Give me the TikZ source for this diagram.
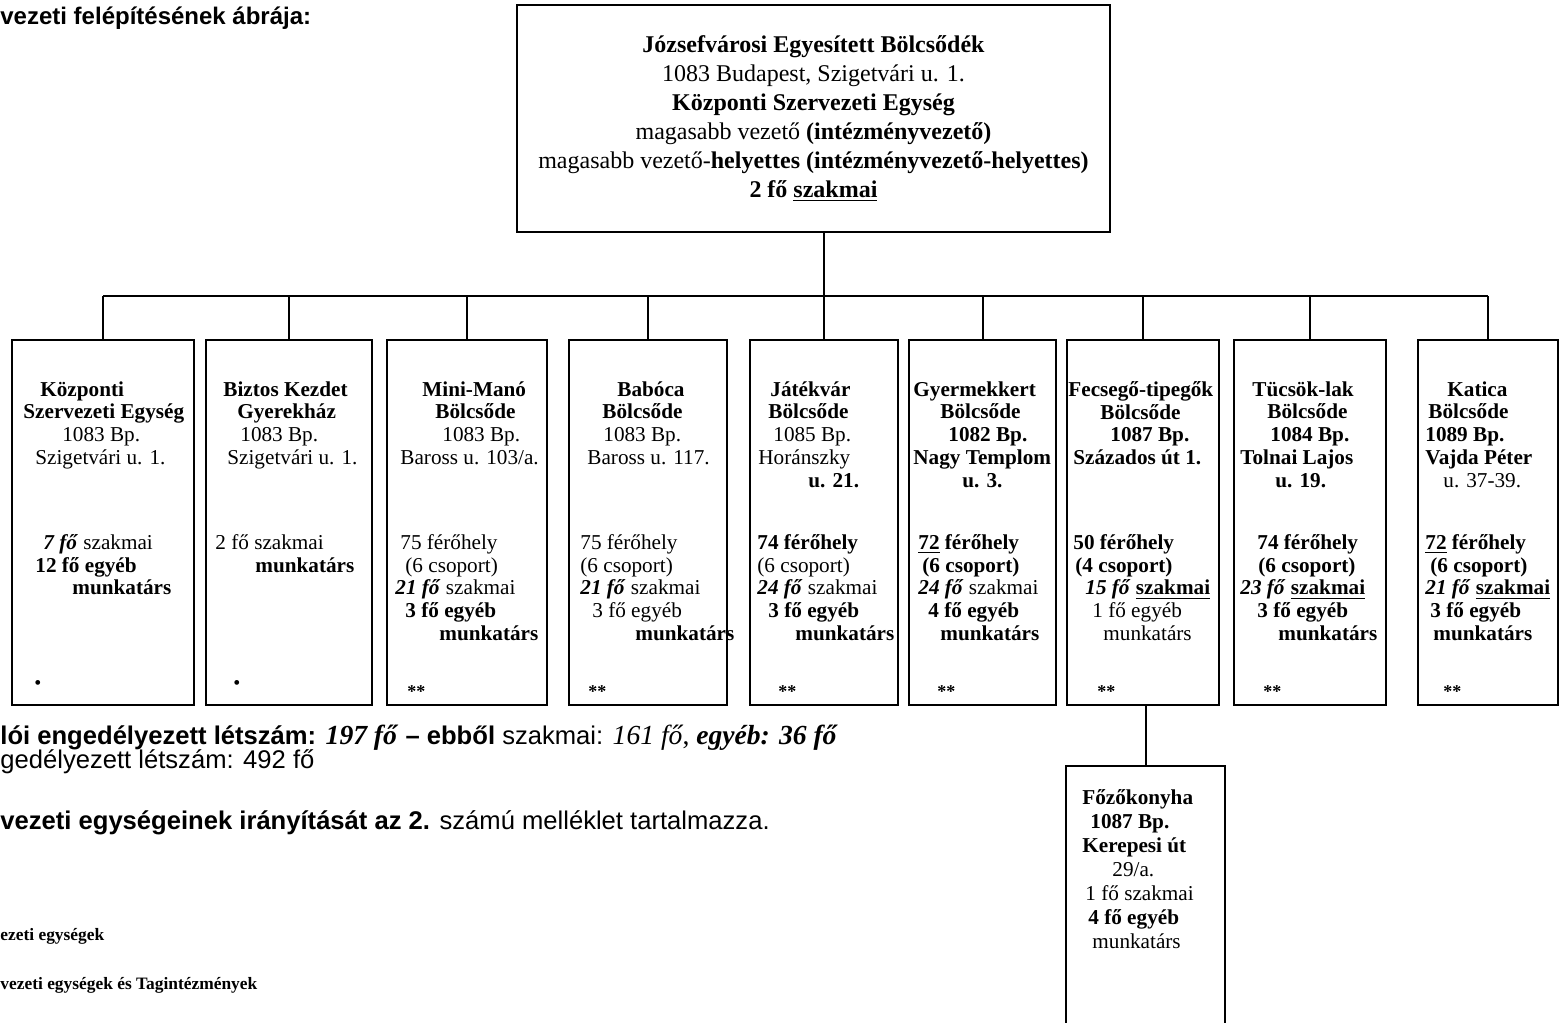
\documentclass[tikz,border=0pt]{standalone}
\usepackage{fontspec}
\setmainfont{Liberation Serif}
\newfontfamily\lsans{Liberation Sans}
\usetikzlibrary{positioning}
\newcommand{\lin}[1]{\hspace*{#1pt}}
\newcommand{\fofo}[1]{\textbf{\textit{#1 fő}}}

\begin{document}
\begin{tikzpicture}[x=0.5pt, y=-0.5pt,
  unit/.style={draw, line width=1.1pt, minimum height=182.5pt, inner sep=0pt},
  ublk/.style={anchor=north west, inner sep=0pt, align=left, font=\fontsize{10.6}{11.4}\selectfont},
  csill/.style={anchor=west, inner sep=0pt, font=\fontsize{9}{9}\selectfont\bfseries},
  kapcs/.style={line width=1pt},
  kint/.style={anchor=west, inner sep=0pt, font=\lsans\fontsize{12.8}{14}\selectfont}]
  \useasboundingbox (0,0) rectangle (1560,1023);
  \clip (0,0) rectangle (1560,1023);

  % top unit
  \node[draw, line width=1.1pt, minimum width=296.5pt, minimum height=113.5pt, align=center,
        font=\fontsize{12}{14.5}\selectfont] (top) at (813.5,118.5)
    {\textbf{Józsefvárosi Egyesített Bölcsődék}\\
     1083 Budapest, Szigetvári u. 1.\\
     \textbf{Központi Szervezeti Egység}\\
     magasabb vezető \textbf{(intézményvezető)}\\
     magasabb vezető-\textbf{helyettes (intézményvezető-helyettes)}\\
     \textbf{2 fő \underline{szakmai}}};

  % units
  \node[unit, minimum width=91pt] (kozp) at (103,522.5) {};
  \node[unit, minimum width=83pt] (biztos) at (289,522.5) {};
  \node[unit, minimum width=80pt] (mini) at (467,522.5) {};
  \node[unit, minimum width=79pt] (baboca) at (648,522.5) {};
  \node[unit, minimum width=74pt] (jatek) at (824,522.5) {};
  \node[unit, minimum width=73.5pt] (gyerm) at (982.5,522.5) {};
  \node[unit, minimum width=76pt] (fecs) at (1143,522.5) {};
  \node[unit, minimum width=76pt] (tucsok) at (1310,522.5) {};
  \node[unit, minimum width=70pt] (katica) at (1488,522.5) {};
  \node[draw, line width=1.1pt, minimum width=79.5pt, minimum height=140pt, anchor=north] (fozo) at (1145.5,765) {};

  % links
  \coordinate (bus) at (0,296);
  \draw[kapcs] (kozp.north |- bus) -- (katica.north |- bus);
  \draw[kapcs] (top.south -| jatek.north) -- (jatek.north);
  \foreach \u in {kozp,biztos,mini,baboca,gyerm,fecs,tucsok,katica}
    \draw[kapcs] (\u.north |- bus) -- (\u.north);
  \draw[kapcs] (fecs.south -| fozo.north) -- (fozo.north);

  % unit texts
  \node[ublk] (kozp-a) at (23,381) {\lin{8.5}\textbf{Központi}\\ \textbf{Szervezeti Egység}\\ \lin{19.5}1083 Bp.\\ \lin{6}Szigetvári u. 1.};
  \node[ublk] (kozp-b) at (35,534) {\lin{4}\fofo{7} szakmai\\ \textbf{12 fő egyéb}\\ \lin{18.5}\textbf{munkatárs}};
  \node[ublk] (biztos-a) at (223,381) {\textbf{Biztos Kezdet}\\ \lin{7}\textbf{Gyerekház}\\ \lin{8.5}1083 Bp.\\ \lin{2}Szigetvári u. 1.};
  \node[ublk] (biztos-b) at (215,534) {2 fő szakmai\\ \lin{20}\textbf{munkatárs}};
  \node[ublk] (mini-a) at (400,381) {\lin{11}\textbf{Mini-Manó}\\ \lin{17.5}\textbf{Bölcsőde}\\ \lin{21}1083 Bp.\\ Baross u. 103/a.};
  \node[ublk] (mini-b) at (395,534) {\lin{2.5}75 férőhely\\ \lin{5}(6 csoport)\\ \fofo{21} szakmai\\ \lin{5}\textbf{3 fő egyéb}\\ \lin{22}\textbf{munkatárs}};
  \node[ublk] (baboca-a) at (587,381) {\lin{15}\textbf{Babóca}\\ \lin{7.5}\textbf{Bölcsőde}\\ \lin{8}1083 Bp.\\ Baross u. 117.};
  \node[ublk] (baboca-b) at (580,534) {75 férőhely\\ (6 csoport)\\ \fofo{21} szakmai\\ \lin{6}3 fő egyéb\\ \lin{27.5}\textbf{munkatárs}};
  \node[ublk] (jatek-a) at (758,381) {\lin{6}\textbf{Játékvár}\\ \lin{5}\textbf{Bölcsőde}\\ \lin{7.5}1085 Bp.\\ Horánszky\\ \lin{25}\textbf{u. 21.}};
  \node[ublk] (jatek-b) at (757,534) {\textbf{74 férőhely}\\ (6 csoport)\\ \fofo{24} szakmai\\ \lin{5.5}\textbf{3 fő egyéb}\\ \lin{19}\textbf{munkatárs}};
  \node[ublk] (gyerm-a) at (913,381) {\textbf{Gyermekkert}\\ \lin{13.5}\textbf{Bölcsőde}\\ \lin{17.5}\textbf{1082 Bp.}\\ \textbf{Nagy Templom}\\ \lin{24.5}\textbf{u. 3.}};
  \node[ublk] (gyerm-b) at (918,534) {\textbf{\underline{72} férőhely}\\ \lin{2}\textbf{(6 csoport)}\\ \fofo{24} szakmai\\ \lin{5}\textbf{4 fő egyéb}\\ \lin{11}\textbf{munkatárs}};
  \node[ublk] (fecs-a) at (1068,381) {\textbf{Fecsegő-tipegők}\\ \lin{16}\textbf{Bölcsőde}\\ \lin{21}\textbf{1087 Bp.}\\ \lin{2.5}\textbf{Százados út 1.}};
  \node[ublk] (fecs-b) at (1073,534) {\textbf{50 férőhely}\\ \lin{1}\textbf{(4 csoport)}\\ \lin{6}\fofo{15} \textbf{\underline{szakmai}}\\ \lin{9.5}1 fő egyéb\\ \lin{15}munkatárs};
  \node[ublk] (tucsok-a) at (1240,381) {\lin{6}\textbf{Tücsök-lak}\\ \lin{13.5}\textbf{Bölcsőde}\\ \lin{15}\textbf{1084 Bp.}\\ \textbf{Tolnai Lajos}\\ \lin{17.5}\textbf{u. 19.}};
  \node[ublk] (tucsok-b) at (1240,534) {\lin{8.5}\textbf{74 férőhely}\\ \lin{9}\textbf{(6 csoport)}\\ \fofo{23} \textbf{\underline{szakmai}}\\ \lin{8.5}\textbf{3 fő egyéb}\\ \lin{19}\textbf{munkatárs}};
  \node[ublk] (katica-a) at (1425,381) {\lin{11}\textbf{Katica}\\ \lin{1.5}\textbf{Bölcsőde}\\ \textbf{1089 Bp.}\\ \textbf{Vajda Péter}\\ \lin{9}u. 37-39.};
  \node[ublk] (katica-b) at (1425,534) {\textbf{\underline{72} férőhely}\\ \lin{2.5}\textbf{(6 csoport)}\\ \fofo{21} \textbf{\underline{szakmai}}\\ \lin{2.5}\textbf{3 fő egyéb}\\ \lin{4}\textbf{munkatárs}};
  \node[ublk, font=\fontsize{10.6}{12}\selectfont] (fozo-a) at (1082,789) {\textbf{Főzőkonyha}\\ \lin{4}\textbf{1087 Bp.}\\ \textbf{Kerepesi út}\\ \lin{15}29/a.\\ \lin{1.5}1 fő szakmai\\ \lin{3}\textbf{4 fő egyéb}\\ \lin{5}munkatárs};

  % marks
  \node[csill, font=\fontsize{10}{10}\selectfont] (kozp-j) at (34,685) {•};
  \node[csill, font=\fontsize{10}{10}\selectfont] (biztos-j) at (233,685) {•};
  \foreach \u/\x in {mini/407,baboca/588,jatek/778,gyerm/937,fecs/1097,tucsok/1263,katica/1443}
    \node[csill] (\u-j) at (\x,692) {**};

  % text outside
  \node[kint, font=\lsans\bfseries\fontsize{12}{14}\selectfont] (cim) at (0,18) {vezeti felépítésének ábrája:};
  \node[kint] (letszam) at (0,738) {\textbf{lói engedélyezett létszám:} {\rmfamily\fontsize{13.8}{14}\selectfont\fofo{197}} \textbf{– ebből} szakmai: {\rmfamily\fontsize{13.8}{14}\selectfont\textit{161 fő}, \textbf{\textit{egyéb: 36 fő}}}};
  \node[kint] (letszam2) at (0,762) {gedélyezett létszám: 492 fő};
  \node[kint] (melleklet) at (0,823) {\textbf{vezeti egységeinek irányítását az 2.} számú melléklet tartalmazza.};
  \node[kint, font=\bfseries\fontsize{8.7}{10}\selectfont] (jel1) at (0,936) {ezeti egységek};
  \node[kint, font=\bfseries\fontsize{8.7}{10}\selectfont] (jel2) at (0,985) {vezeti egységek és Tagintézmények};
\end{tikzpicture}
\end{document}
